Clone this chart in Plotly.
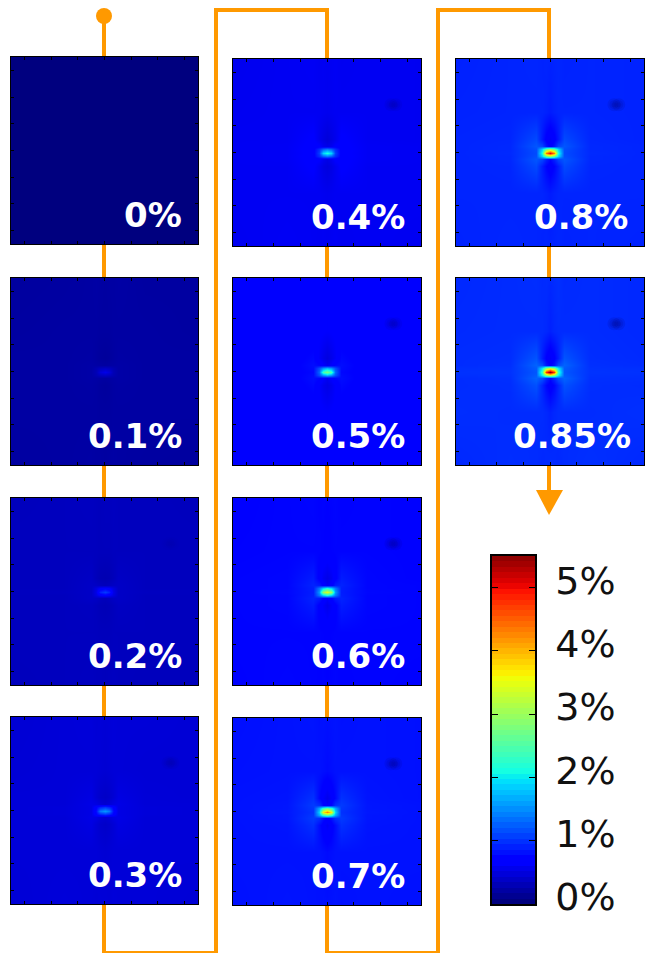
import numpy as np
import plotly.graph_objects as go

W, H = 646, 953
labels = ["0%", "0.1%", "0.2%", "0.3%", "0.4%", "0.5%", "0.6%", "0.7%", "0.8%", "0.85%"]
label_right_gap = [14, 14, 14, 14, 14, 14, 14, 14, 14, 11]
# x0, x1, y0(top), y1(bottom) of each panel, in pixels
panel_boxes = [(11, 198, 57, 244), (11, 198, 278, 465), (11, 198, 498, 685), (11, 198, 717, 904),
               (233, 421, 59, 246), (233, 421, 278, 465), (233, 421, 498, 685), (233, 421, 718, 905),
               (456, 644, 59, 246), (456, 644, 278, 465)]
x_nodes = [-3.5, -1.5, -0.52, -0.3, -0.15, 0, 0.15, 0.3, 0.52, 1.5, 3.5]
y_nodes = [-3.5, -1.5, -0.52, -0.26, -0.13, 0, 0.13, 0.26, 0.52, 1.5, 3.5]

# strain in hundredths of a percent, rows run bottom to top
p00 = [[0] * 11 for _ in range(11)]
p10 = [[16, 17, 18, 17, 17, 16, 17, 18, 17, 16, 15],
       [17, 17, 17, 17, 16, 16, 16, 17, 17, 17, 17],
       [17, 17, 18, 17, 15, 14, 15, 17, 18, 17, 17],
       [17, 17, 19, 18, 17, 16, 17, 18, 19, 17, 17],
       [17, 17, 19, 24, 30, 33, 30, 24, 19, 17, 17],
       [17, 17, 19, 26, 42, 50, 42, 26, 19, 17, 17],
       [17, 17, 19, 24, 30, 33, 30, 24, 19, 17, 17],
       [17, 17, 19, 18, 17, 16, 17, 18, 19, 17, 17],
       [17, 17, 18, 16, 14, 13, 14, 16, 18, 17, 17],
       [16, 17, 17, 17, 16, 16, 16, 17, 17, 17, 16],
       [15, 16, 17, 18, 17, 16, 17, 17, 18, 16, 16]]
p20 = [[29, 30, 31, 30, 30, 29, 30, 31, 30, 29, 29],
       [30, 30, 30, 30, 29, 29, 29, 30, 30, 30, 30],
       [30, 30, 31, 29, 27, 26, 27, 29, 32, 30, 30],
       [30, 30, 34, 33, 30, 28, 30, 33, 34, 30, 30],
       [30, 30, 34, 46, 59, 65, 59, 46, 34, 30, 30],
       [30, 31, 34, 50, 85, 100, 85, 50, 34, 31, 30],
       [30, 30, 34, 46, 59, 65, 59, 46, 34, 30, 30],
       [30, 30, 34, 33, 30, 28, 30, 33, 34, 30, 30],
       [30, 30, 33, 28, 25, 24, 25, 28, 33, 30, 30],
       [30, 30, 30, 30, 29, 29, 29, 30, 30, 30, 30],
       [29, 30, 31, 30, 29, 30, 30, 31, 30, 30, 29]]
p30 = [[41, 43, 42, 41, 42, 42, 41, 43, 42, 42, 41],
       [42, 42, 42, 42, 41, 40, 41, 42, 42, 42, 42],
       [42, 42, 47, 41, 37, 35, 37, 41, 47, 42, 42],
       [42, 42, 49, 47, 42, 39, 42, 47, 49, 42, 42],
       [42, 43, 48, 68, 88, 99, 88, 68, 48, 43, 42],
       [42, 43, 48, 75, 132, 150, 132, 75, 48, 43, 42],
       [42, 43, 48, 68, 88, 99, 88, 68, 48, 43, 42],
       [42, 42, 49, 47, 42, 38, 42, 47, 49, 42, 42],
       [42, 42, 47, 40, 36, 34, 36, 40, 47, 42, 41],
       [41, 42, 42, 42, 41, 40, 41, 42, 42, 41, 41],
       [40, 42, 43, 41, 42, 41, 42, 43, 42, 42, 41]]
p40 = [[54, 56, 55, 54, 55, 54, 55, 56, 54, 55, 54],
       [55, 55, 55, 55, 54, 53, 54, 55, 55, 55, 55],
       [55, 55, 62, 54, 48, 45, 48, 54, 62, 55, 55],
       [55, 56, 63, 62, 54, 49, 54, 62, 63, 56, 55],
       [55, 56, 64, 92, 121, 136, 121, 92, 64, 56, 55],
       [55, 56, 63, 102, 184, 210, 184, 102, 63, 56, 55],
       [55, 56, 64, 92, 121, 136, 121, 92, 64, 56, 55],
       [55, 56, 63, 62, 54, 50, 54, 62, 63, 56, 55],
       [55, 55, 62, 52, 47, 43, 47, 52, 62, 55, 54],
       [54, 55, 55, 55, 54, 53, 54, 55, 55, 55, 54],
       [53, 55, 56, 54, 55, 54, 55, 56, 54, 55, 54]]
p50 = [[61, 63, 62, 61, 62, 61, 62, 63, 61, 62, 61],
       [62, 62, 62, 62, 61, 60, 61, 62, 62, 62, 62],
       [62, 62, 72, 60, 53, 49, 53, 60, 72, 62, 62],
       [62, 63, 75, 71, 61, 54, 61, 71, 75, 63, 62],
       [62, 63, 74, 111, 149, 169, 149, 111, 74, 63, 62],
       [62, 64, 72, 124, 232, 270, 232, 124, 72, 64, 62],
       [62, 63, 74, 111, 149, 169, 149, 111, 74, 63, 62],
       [62, 63, 75, 71, 60, 53, 60, 71, 75, 63, 62],
       [62, 62, 72, 58, 51, 46, 51, 58, 72, 62, 61],
       [61, 62, 62, 62, 61, 60, 61, 62, 62, 62, 61],
       [60, 62, 63, 61, 62, 61, 62, 63, 61, 62, 61]]
p60 = [[69, 71, 70, 69, 70, 69, 70, 71, 69, 70, 69],
       [70, 70, 70, 70, 69, 67, 69, 70, 70, 70, 70],
       [70, 71, 83, 66, 58, 52, 58, 66, 83, 71, 70],
       [70, 71, 87, 82, 68, 59, 68, 82, 87, 71, 70],
       [70, 71, 85, 134, 184, 210, 184, 134, 85, 71, 70],
       [70, 72, 84, 151, 293, 340, 293, 151, 84, 72, 70],
       [70, 71, 85, 134, 184, 210, 184, 134, 85, 71, 70],
       [70, 71, 87, 82, 64, 55, 64, 82, 87, 71, 70],
       [70, 71, 83, 65, 55, 50, 55, 65, 83, 71, 69],
       [69, 70, 70, 70, 69, 67, 69, 70, 70, 70, 69],
       [68, 70, 71, 69, 70, 69, 70, 71, 69, 70, 69]]
p70 = [[77, 79, 78, 77, 78, 77, 78, 79, 77, 78, 77],
       [78, 78, 78, 78, 76, 74, 76, 78, 78, 78, 78],
       [78, 79, 94, 75, 63, 56, 63, 75, 94, 79, 78],
       [78, 80, 100, 93, 76, 65, 76, 93, 100, 80, 78],
       [78, 80, 98, 159, 223, 257, 223, 159, 98, 80, 78],
       [78, 81, 95, 182, 361, 420, 361, 182, 95, 81, 78],
       [78, 80, 98, 159, 223, 257, 223, 159, 98, 80, 78],
       [78, 80, 100, 93, 70, 59, 70, 93, 100, 80, 78],
       [78, 79, 95, 72, 59, 52, 59, 72, 95, 79, 77],
       [77, 78, 78, 78, 76, 74, 76, 78, 78, 78, 77],
       [76, 78, 79, 77, 78, 77, 78, 79, 77, 78, 77]]
p80 = [[87, 89, 88, 87, 88, 87, 88, 89, 87, 88, 87],
       [88, 88, 88, 88, 86, 83, 86, 88, 88, 88, 88],
       [88, 89, 108, 84, 70, 61, 70, 84, 108, 89, 88],
       [88, 90, 115, 106, 86, 72, 86, 106, 115, 90, 88],
       [88, 90, 111, 185, 262, 302, 262, 185, 111, 90, 88],
       [88, 91, 109, 212, 428, 500, 428, 212, 109, 91, 88],
       [88, 90, 111, 185, 262, 302, 262, 185, 111, 90, 88],
       [88, 90, 115, 106, 80, 65, 80, 106, 115, 90, 88],
       [88, 89, 108, 81, 65, 57, 65, 81, 108, 89, 87],
       [87, 88, 88, 88, 86, 83, 86, 88, 88, 88, 87],
       [86, 88, 89, 87, 88, 87, 88, 89, 87, 88, 87]]
p85 = [[90, 93, 92, 90, 91, 92, 91, 90, 92, 94, 90],
       [93, 92, 92, 92, 90, 86, 90, 92, 92, 92, 94],
       [92, 93, 112, 88, 72, 62, 72, 88, 112, 93, 92],
       [92, 94, 122, 112, 90, 74, 90, 112, 122, 94, 93],
       [94, 95, 118, 200, 285, 330, 285, 200, 118, 95, 94],
       [95, 96, 115, 230, 470, 550, 470, 230, 115, 96, 95],
       [94, 95, 118, 195, 285, 330, 285, 195, 118, 95, 94],
       [92, 94, 122, 110, 80, 67, 80, 110, 122, 94, 92],
       [92, 93, 114, 84, 67, 57, 67, 84, 114, 93, 91],
       [91, 92, 92, 92, 90, 86, 90, 92, 92, 92, 90],
       [90, 92, 93, 91, 92, 90, 92, 94, 91, 92, 90]]
panels = [p00, p10, p20, p30, p40, p50, p60, p70, p80, p85]

# the small dark smudge seen at the upper right of the later panels
smudge_x = [2.38, 2.56]
smudge_y = [1.79, 1.79]
smudge_alpha = [0, 0, 0.02, 0.06, 0.07, 0.08, 0.09, 0.1, 0.11, 0.12]

colorbar_ticks = [0, 100, 200, 300, 400, 500]
colorbar_labels = ["0%", "1%", "2%", "3%", "4%", "5%"]

jet = [[0, "rgb(0,0,127)"], [0.11, "rgb(0,0,255)"], [0.125, "rgb(0,0,255)"], [0.34, "rgb(0,219,255)"],
       [0.35, "rgb(0,230,247)"], [0.375, "rgb(21,255,226)"], [0.64, "rgb(239,255,8)"],
       [0.65, "rgb(247,246,0)"], [0.66, "rgb(255,236,0)"], [0.89, "rgb(255,19,0)"],
       [0.91, "rgb(232,0,0)"], [1, "rgb(127,0,0)"]]
ORANGE = "#ff9900"


def fx(px):
    return px / W


def fy(py):
    return 1 - py / H


fig = go.Figure()
layout = {}
annotations = []
for i, (label, gap, z, box, alpha) in enumerate(zip(labels, label_right_gap, panels, panel_boxes, smudge_alpha), start=1):
    x0, x1, y0, y1 = box
    fig.add_trace(go.Heatmap(x=x_nodes, y=y_nodes, z=z, zmin=0, zmax=550, colorscale=jet,
                             zsmooth="best", showscale=False, xaxis=f"x{i}", yaxis=f"y{i}"))
    if alpha:
        for size in (13, 9, 5):
            fig.add_trace(go.Scatter(x=smudge_x, y=smudge_y, mode="markers", xaxis=f"x{i}", yaxis=f"y{i}",
                                     marker=dict(size=size, color="#000070", opacity=alpha, line=dict(width=0))))
    ax = dict(range=[-3.5, 3.5], tickvals=[-3, -2, -1, 0, 1, 2, 3], ticks="inside", ticklen=2.5,
              tickcolor="black", tickwidth=1, showticklabels=False, showgrid=False, zeroline=False,
              showline=True, linecolor="black", linewidth=1.2, mirror="allticks")
    layout[f"xaxis{i}"] = dict(ax, domain=[fx(x0), fx(x1)], anchor=f"y{i}")
    layout[f"yaxis{i}"] = dict(ax, domain=[fy(y1), fy(y0)], anchor=f"x{i}")
    annotations.append(dict(x=fx(x1 - gap), y=fy(y1 - 7), xref="paper", yref="paper", text=label,
                            showarrow=False, xanchor="right", yanchor="bottom",
                            font=dict(family="DejaVu Sans", size=34, color="white", weight="bold")))

# colour bar as its own scale strip
bar_levels = np.linspace(0, 550, 65)
n = len(labels) + 1
fig.add_trace(go.Heatmap(x=[0, 1], y=bar_levels, z=[[v, v] for v in bar_levels[:-1]], zmin=0, zmax=550,
                         colorscale=jet, showscale=False, xaxis=f"x{n}", yaxis=f"y{n}"))
layout[f"xaxis{n}"] = dict(domain=[fx(492), fx(535)], anchor=f"y{n}", range=[0, 1], showticklabels=False,
                           ticks="", showgrid=False, zeroline=False, showline=True, linecolor="black",
                           linewidth=1.5, mirror=True)
layout[f"yaxis{n}"] = dict(domain=[fy(904), fy(556)], anchor=f"x{n}", range=[0, 550], side="right",
                           tickvals=colorbar_ticks, ticktext=colorbar_labels, ticks="inside", ticklen=6,
                           tickcolor="black", tickfont=dict(family="DejaVu Sans", size=38, color="#111"),
                           ticklabelstandoff=11, ticklabelshift=-7, showgrid=False, zeroline=False,
                           showline=True, linecolor="black", linewidth=1.5, mirror="allticks")

# the orange measurement path, drawn behind the panels
path = "M 104 16 L 104 953 L 216 953 L 216 10 L 327 10 L 327 953 L 438 953 L 438 10 L 549 10 L 549 492"


def to_paper_path(p):
    out, parts = [], p.split()
    i = 0
    while i < len(parts):
        out += [parts[i], f"{fx(float(parts[i + 1])):.5f}", f"{fy(float(parts[i + 2])):.5f}"]
        i += 3
    return " ".join(out)


shapes = [
    dict(type="path", path=to_paper_path(path), xref="paper", yref="paper",
         line=dict(color=ORANGE, width=4), layer="below"),
    dict(type="circle", xref="paper", yref="paper", x0=fx(96), x1=fx(112), y0=fy(24), y1=fy(8),
         fillcolor=ORANGE, line=dict(width=0), layer="below"),
    dict(type="path", path=to_paper_path("M 536 490 L 563 490 L 549 515") + " Z", xref="paper", yref="paper",
         fillcolor=ORANGE, line=dict(width=0), layer="below"),
]

fig.update_layout(width=W, height=H, margin=dict(l=0, r=0, t=0, b=0, autoexpand=False), paper_bgcolor="white",
                  plot_bgcolor="white", showlegend=False, annotations=annotations, shapes=shapes, **layout)
fig.write_html("out.html", config={"displayModeBar": False, "responsive": False},
               post_script="document.body.style.margin='0';document.documentElement.style.overflow='hidden';")
